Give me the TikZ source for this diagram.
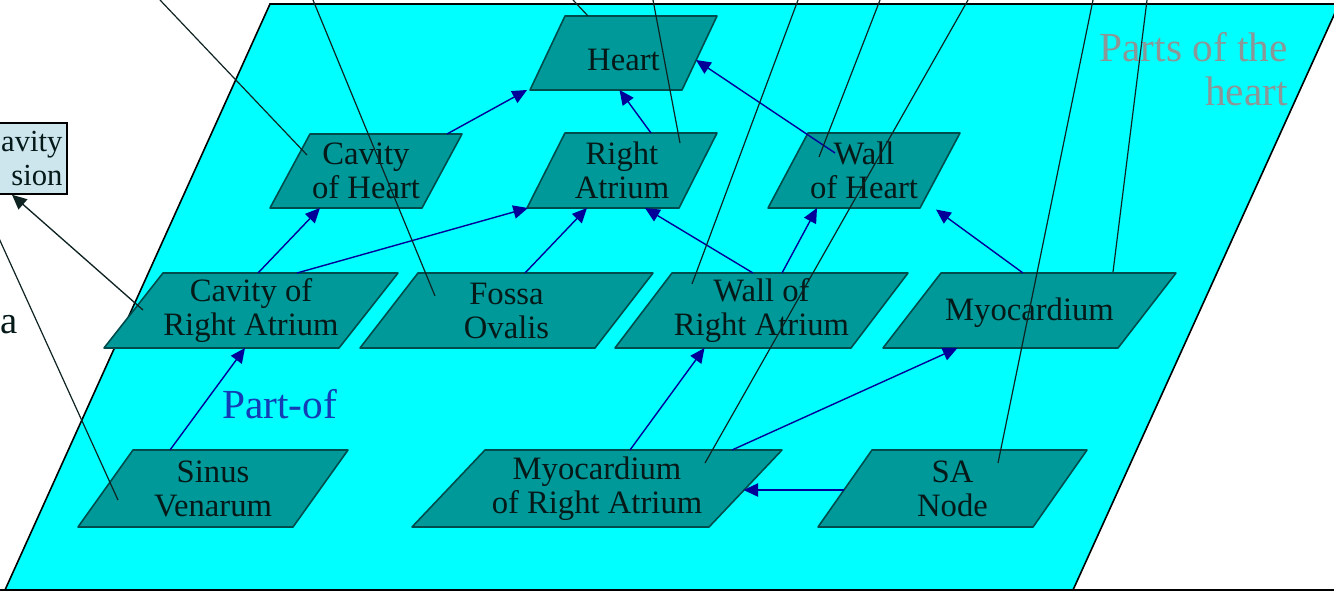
\documentclass[tikz,border=0pt]{standalone}
\usepackage{fontspec}
\setmainfont{Liberation Serif}
\usetikzlibrary{arrows.meta,calc}
\pgfdeclarelayer{bg}
\pgfdeclarelayer{shapes}
\pgfsetlayers{bg,shapes,main}
\definecolor{cyanbg}{RGB}{0,255,255}
\definecolor{tealfill}{RGB}{0,153,153}
\definecolor{tealedge}{RGB}{0,75,75}
\definecolor{navyline}{RGB}{0,0,153}
\definecolor{partofblue}{RGB}{20,60,180}
\definecolor{graytxt}{RGB}{140,150,150}
\definecolor{boxfill}{RGB}{205,230,238}
\definecolor{inktxt}{RGB}{5,25,25}
\definecolor{refink}{RGB}{15,35,35}
\tikzset{
  parttext/.style={align=center, inner sep=0pt, text=inktxt, font=\fontsize{24.5}{25.5}\selectfont},
  partshape/.style={fill=tealfill, draw=tealedge, line width=1.2pt, line join=round},
  partarrow/.style={draw=navyline, line width=1.05pt, -{Triangle[length=11pt,width=10pt]}},
  refline/.style={draw=refink, line width=0.9pt},
  blackarrow/.style={draw=refink, line width=1pt, -{Triangle[length=11pt,width=10pt]}},
  dimbox/.style={draw=black, line width=1.1pt, fill=boxfill, align=right, inner xsep=0pt, text width=66pt, minimum width=72.75pt, minimum height=53.25pt, font=\fontsize{23}{25}\selectfont, text=inktxt}
}
\newcommand\pnode[7]{%
  \pgfmathsetmacro\pnw{(#3-#2)*0.75}%
  \pgfmathsetmacro\pnh{(#5-#4)*0.75}%
  \node[parttext, minimum width=\pnw pt, minimum height=\pnh pt] (#1) at ({(#2+#3)/2},{(#4+#5)/2}) {#7};%
  \begin{pgfonlayer}{shapes}
    \draw[partshape] (#2,#5) -- ({#3-#6},#5) -- (#3,#4) -- ({#2+#6},#4) -- cycle;
  \end{pgfonlayer}%
}
\newcommand\lowtext[2]{\raisebox{0pt}[\dimexpr\height+#1\relax]{#2}}
\begin{document}
\begin{tikzpicture}[x=0.75pt,y=-0.75pt]
\useasboundingbox (0,0) rectangle (1334,592);
\clip (0,0) rectangle (1334,592);
\begin{pgfonlayer}{bg}
  \fill[white] (0,0) rectangle (1334,592);
  \draw[fill=cyanbg, draw=black, line width=1.2pt] (270,4) -- (1339,4) -- (1073,590) -- (5,590) -- cycle;
  \draw[black, line width=1.2pt] (0,590) -- (1334,590);
\end{pgfonlayer}

% parts
\pnode{heart}{530}{717}{16}{90}{35}{\lowtext{11pt}{Heart}}
\pnode{cavh}{270}{462}{134}{208}{40}{Cavity\\of Heart}
\pnode{ra}{527}{717}{133}{208}{38}{Right\\Atrium}
\pnode{wallh}{768}{960}{133}{208}{40}{Wall\\of Heart}
\pnode{cavra}{104}{398}{273}{348}{59}{Cavity of\\Right Atrium}
\pnode{fossa}{360}{653}{273}{348}{58}{Fossa\\Ovalis}
\pnode{wallra}{615}{908}{273}{348}{57}{Wall of\\Right Atrium}
\pnode{myo}{883}{1176}{273}{348}{58}{\lowtext{4pt}{Myocardium}}
\pnode{sinus}{78}{348}{450}{527}{55}{Sinus\\Venarum}
\pnode{mora}{412}{782}{450}{527}{73}{Myocardium\\of Right Atrium}
\pnode{sa}{818}{1087}{450}{527}{54}{SA\\Node}

% labels
\node[anchor=base west, inner sep=0pt, text=partofblue, font=\fontsize{31}{34}\selectfont] (partof) at (222,418) {Part-of};
\node[anchor=north east, align=right, inner sep=0pt, text=graytxt, font=\fontsize{31}{33}\selectfont] (title) at (1288,32) {Parts of the\\heart};
\node[dimbox] (dim) at (18.5,158.5) {avity\\sion\hspace{7pt}};
\node[anchor=base west, inner sep=0pt, text=inktxt, font=\fontsize{29}{30}\selectfont] (alab) at (0,333) {a};

% part-of arrows
\draw[partarrow] ($(cavh.center)+(81,-37)$) -- ($(heart.center)+(-96.5,37)$);
\draw[partarrow] ($(ra.center)+(29,-37.5)$) -- ($(heart.center)+(-4,37)$);
\draw[partarrow] ($(wallh.center)+(-29,-17.5)$) -- ($(heart.center)+(72.5,7)$);
\draw[partarrow] ($(cavra.center)+(7,-37.5)$) -- ($(cavh.center)+(-46,37)$);
\draw[partarrow] ($(cavra.center)+(46,-37.5)$) -- ($(ra.center)+(-94,37.5)$);
\draw[partarrow] ($(fossa.center)+(18.5,-37.5)$) -- ($(ra.center)+(-35,37.5)$);
\draw[partarrow] ($(wallra.center)+(-8.5,-37.5)$) -- ($(ra.center)+(23,37.5)$);
\draw[partarrow] ($(wallra.center)+(20.5,-37.5)$) -- ($(wallh.center)+(-47,37.5)$);
\draw[partarrow] ($(myo.center)+(-6.5,-37.5)$) -- ($(wallh.center)+(72,39)$);
\draw[partarrow] ($(sinus.center)+(-43,-38.5)$) -- ($(cavra.center)+(-6,37.5)$);
\draw[partarrow] ($(mora.center)+(33,-38.5)$) -- ($(wallra.center)+(-57,37.5)$);
\draw[partarrow] ($(mora.center)+(135,-38.5)$) -- ($(myo.center)+(-72,37.5)$);
\draw[partarrow] ($(sa.center)+(-108.5,1.5)$) -- ($(mora.center)+(146.5,1.5)$);

% references from outside
\coordinate (t1) at (160,0);
\coordinate (t2) at (313,0);
\coordinate (t3) at (573,0);
\coordinate (t4) at (653,0);
\coordinate (t5) at (798,0);
\coordinate (t6) at (880,0);
\coordinate (t7) at (968,0);
\coordinate (t8) at (1093,0);
\coordinate (t9) at (1147,0);
\coordinate (l1) at (-23,190);
\draw[refline] (t1) -- ($(cavh.center)+(-59,-16)$);
\draw[refline] (t2) -- ($(fossa.center)+(-71.5,-14.5)$);
\draw[refline] (t3) -- ($(heart.center)+(-35.5,-37)$);
\draw[refline] (t4) -- ($(ra.center)+(58,-27.5)$);
\draw[refline] (t5) -- ($(wallra.center)+(-69.5,-26.5)$);
\draw[refline] (t6) -- ($(wallh.center)+(-45,-13.5)$);
\draw[refline] (t7) -- ($(mora.center)+(108,-25.5)$);
\draw[refline] (t8) -- ($(sa.center)+(45.5,-25.5)$);
\draw[refline] (t9) -- ($(myo.center)+(83.5,-38.5)$);
\draw[refline] (l1) -- ($(sinus.center)+(-95,11.5)$);
\draw[blackarrow] ($(cavra.center)+(-108,-0.5)$) -- ($(dim.south)+(-6.5,0)$);
\end{tikzpicture}
\end{document}
